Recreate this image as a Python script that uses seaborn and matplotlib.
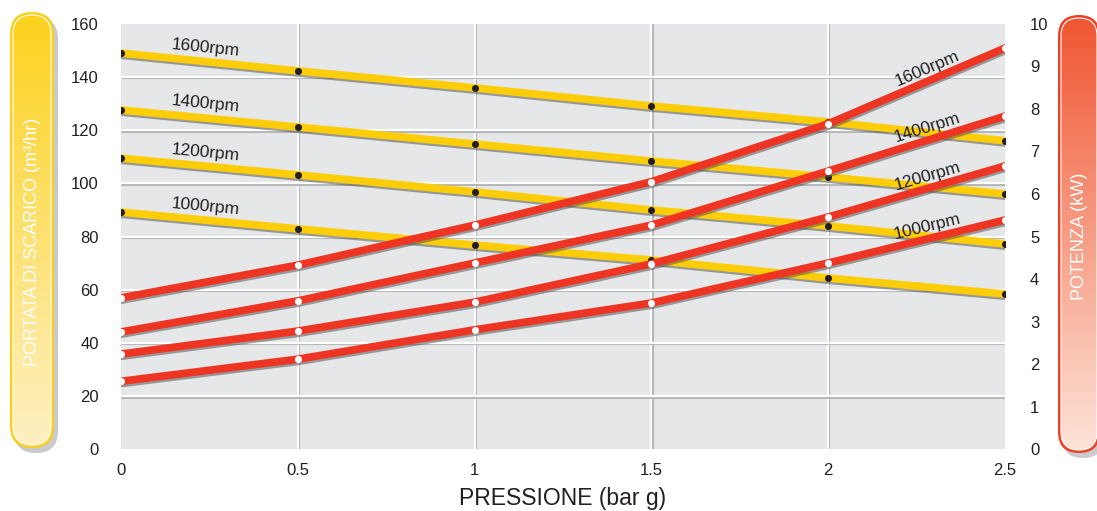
import numpy as np
import matplotlib
matplotlib.use("Agg")
import matplotlib.pyplot as plt
import matplotlib.patheffects as pe
from matplotlib.patches import FancyBboxPatch
from matplotlib.colors import LinearSegmentedColormap
import seaborn as sns

# data
pressione = [0, 0.5, 1, 1.5, 2, 2.5]
rpm_labels = ["1000rpm", "1200rpm", "1400rpm", "1600rpm"]

# portata di scarico (m3/hr) - left axis, yellow
portata_1000 = [89.2, 82.9, 76.8, 71.2, 64.4, 58.4]
portata_1200 = [109.5, 103.2, 96.8, 90.0, 84.0, 77.2]
portata_1400 = [127.6, 121.2, 114.8, 108.4, 102.4, 96.0]
portata_1600 = [149.0, 142.3, 135.9, 129.1, 123.1, 116.0]

# potenza (kW) - right axis, red
potenza_1000 = [1.60, 2.12, 2.81, 3.44, 4.38, 5.39]
potenza_1200 = [2.24, 2.78, 3.46, 4.36, 5.46, 6.66]
potenza_1400 = [2.76, 3.49, 4.38, 5.27, 6.54, 7.83]
potenza_1600 = [3.56, 4.33, 5.27, 6.29, 7.65, 9.43]

left_ticks = list(range(0, 161, 20))
right_ticks = list(range(0, 11))
x_ticks = [0, 0.5, 1, 1.5, 2, 2.5]
x_ticklabels = ["0", "0.5", "1", "1.5", "2", "2.5"]

portata = [portata_1000, portata_1200, portata_1400, portata_1600]
potenza = [potenza_1000, potenza_1200, potenza_1400, potenza_1600]

YELLOW = "#fdcd07"
RED = "#ee3524"
DARK = "#231f20"

sns.set_style("white")
plt.rcParams["font.family"] = ["Liberation Sans", "DejaVu Sans"]

W, H = 1097, 511
fig = plt.figure(figsize=(W / 100, H / 100), dpi=100)

ax = fig.add_axes([121 / W, (H - 449.4) / H, 884 / W, 425.6 / H])
ax.set_facecolor("#e6e7e8")
ax.set_xlim(0, 2.5)
ax.set_ylim(0, 160)
ax.set_xticks(x_ticks)
ax.set_xticklabels(x_ticklabels)
ax.set_yticks(left_ticks)
ax.set_axisbelow(True)
ax.grid(True, color="white", lw=1.5)
grid_fx = [pe.SimpleLineShadow(offset=(0.8, -1.0), shadow_color="#b5b6b8", alpha=1), pe.Normal()]
for gl in ax.get_xgridlines() + ax.get_ygridlines():
    gl.set_path_effects(grid_fx)
for gl in [ax.get_xgridlines()[0], ax.get_xgridlines()[-1],
           ax.get_ygridlines()[0], ax.get_ygridlines()[-1]]:
    gl.set_visible(False)
for s in ax.spines.values():
    s.set_visible(False)
ax.tick_params(axis="y", length=0, pad=16, labelsize=12, colors=DARK)
ax.tick_params(axis="x", length=0, pad=10, labelsize=12, colors=DARK)
ax.set_xlabel("PRESSIONE (bar g)", fontsize=16.5, color=DARK, labelpad=6)

ax2 = ax.twinx()
ax2.set_ylim(0, 10)
ax2.set_yticks(right_ticks)
for s in ax2.spines.values():
    s.set_visible(False)
ax2.tick_params(axis="y", length=0, pad=18, labelsize=12, colors=DARK)
ax2.grid(False)

line_fx = [pe.SimpleLineShadow(offset=(0.6, -1.6), shadow_color="#555555", alpha=0.55), pe.Normal()]


def seg_angle(a, xs, ys, i):
    p0 = a.transData.transform((xs[i], ys[i]))
    p1 = a.transData.transform((xs[i + 1], ys[i + 1]))
    return np.degrees(np.arctan2(p1[1] - p0[1], p1[0] - p0[0]))


for lab, vals in zip(rpm_labels, portata):
    sns.lineplot(x=pressione, y=vals, ax=ax, color=YELLOW, lw=5.5,
                 solid_capstyle="round", path_effects=line_fx, legend=False)
    sns.scatterplot(x=pressione, y=vals, ax=ax, color=DARK, s=26,
                    linewidth=0, zorder=4, legend=False)
    xl = 0.24
    ax.annotate(lab, xy=(xl, np.interp(xl, pressione, vals)), xytext=(0, 10),
                textcoords="offset points", ha="center", va="center",
                rotation=seg_angle(ax, pressione, vals, 0), fontsize=12.5,
                color=DARK, zorder=5)

for lab, vals in zip(rpm_labels, potenza):
    sns.lineplot(x=pressione, y=vals, ax=ax2, color=RED, lw=5.5,
                 solid_capstyle="round", path_effects=line_fx, legend=False)
    sns.scatterplot(x=pressione, y=vals, ax=ax2, color="white", s=26,
                    linewidth=0, zorder=4, legend=False)
    xl = 2.28
    ax2.annotate(lab, xy=(xl, np.interp(xl, pressione, vals)), xytext=(0, 9),
                 textcoords="offset points", ha="center", va="center",
                 rotation=seg_angle(ax2, pressione, vals, 4), fontsize=12.5,
                 color=DARK, zorder=5)

ax2.set_ylim(0, 10)
ax2.set_xlim(0, 2.5)
ax2.set_yticks(right_ticks)

# side "pill" labels
ov = fig.add_axes([0, 0, 1, 1], zorder=-1)
ov.axis("off")


def pill(x0, x1, top, bot, border, c_top, c_bot, text, tx, ty):
    left, bottom = x0, H - bot
    w, h = x1 - x0, bot - top
    r = w / 2
    ov.add_patch(FancyBboxPatch((left + 4, bottom - 5), w, h,
                                boxstyle=f"round,pad=0,rounding_size={r}",
                                fc="#c9cacc", ec="none"))
    ov.add_patch(FancyBboxPatch((left, bottom), w, h,
                                boxstyle=f"round,pad=0,rounding_size={r}",
                                fc=border, ec="none"))
    ins = 3
    inner = FancyBboxPatch((left + ins, bottom + ins), w - 2 * ins, h - 2 * ins,
                           boxstyle=f"round,pad=0,rounding_size={r - ins}",
                           fc="none", ec="white", lw=0.8, zorder=3)
    ov.add_patch(inner)
    cmap = LinearSegmentedColormap.from_list("g", [c_bot, c_top])
    grad = np.linspace(0, 1, 256).reshape(-1, 1)
    im = ov.imshow(grad, cmap=cmap, origin="lower", aspect="auto",
                   extent=[left + ins, left + w - ins, bottom + ins, bottom + h - ins],
                   zorder=2)
    im.set_clip_path(inner)
    ov.text(tx, H - ty, text, rotation=90, ha="center", va="center",
            color="white", fontsize=13, zorder=4)


pill(10, 54, 12, 448, "#fbcf1a", "#fcd21e", "#fef0c2",
     "PORTATA DI SCARICO (m³/hr)", 33, 242)
pill(1058, 1100, 15, 453, "#ee4025", "#f05632", "#fde4d8",
     "POTENZA (kW)", 1080, 236)
ov.set_xlim(0, W)
ov.set_ylim(0, H)

fig.savefig("out.png", dpi=100)
